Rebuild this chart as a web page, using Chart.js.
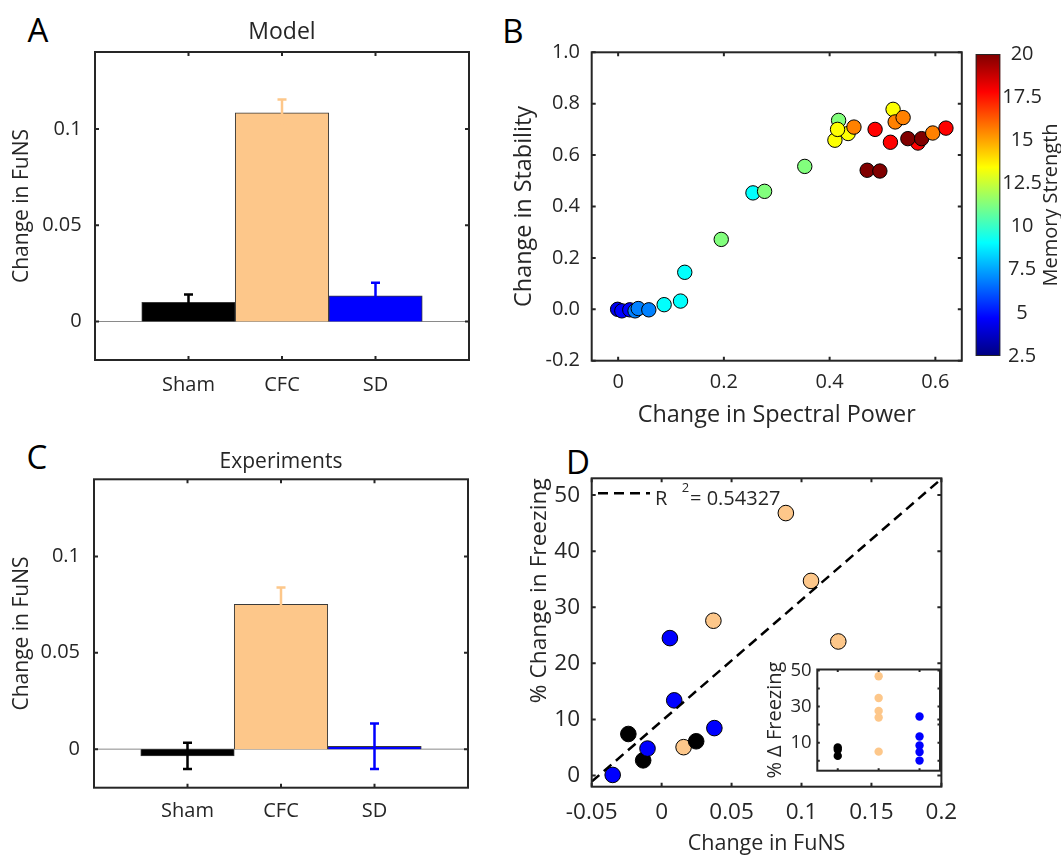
<!DOCTYPE html>
<html>
<head>
<meta charset="utf-8">
<script src="https://cdn.jsdelivr.net/npm/chart.js@4.4.1/dist/chart.umd.min.js"></script>
<style>
  body { margin: 0; background: #fff; width: 1061px; height: 856px; position: relative; overflow: hidden; }
  canvas { position: absolute; }
  .letter { position: absolute; font: 33px 'Open Sans', sans-serif; color: #000; line-height: 1; transform: translate(-50%, -50%); }
</style>
</head>
<body>
<div class="letter" style="left:38px;top:29px">A</div>
<div class="letter" style="left:513px;top:30px">B</div>
<div class="letter" style="left:37px;top:456px">C</div>
<div class="letter" style="left:578px;top:461px">D</div>
<canvas id="chartA" width="480" height="410" style="left:0;top:0"></canvas>
<canvas id="chartC" width="480" height="436" style="left:0;top:420px"></canvas>
<canvas id="chartB" width="480" height="440" style="left:490px;top:0"></canvas>
<canvas id="cbar" width="101" height="330" style="left:960px;top:40px"></canvas>
<canvas id="chartD" width="480" height="436" style="left:490px;top:420px"></canvas>
<canvas id="inset" width="210" height="150" style="left:740px;top:640px"></canvas>
<script>
// panels A and C: change in FuNS per group
var groups = ['Sham', 'CFC', 'SD'];
var groupColors = ['#000000', '#FDC78A', '#0000FF'];
var modelFuns = [0.010, 0.1084, 0.0133];
var modelErr = [0.004, 0.0069, 0.0068];
var exptFuns = [-0.0035, 0.0751, 0.0015];
var exptErr = [0.0068, 0.0088, 0.0118];
var funsTicks = [0, 0.05, 0.1];

// panel B: spectral power vs stability, coloured by memory strength
var spectralPower = [-0.001, 0.007, 0.022, 0.032, 0.038, 0.058, 0.087, 0.118, 0.126, 0.195, 0.255, 0.277, 0.353,
  0.417, 0.41, 0.435, 0.415, 0.446, 0.486, 0.471, 0.495, 0.52, 0.524, 0.539, 0.515, 0.567, 0.548, 0.574, 0.595, 0.62];
var stability = [0.0, -0.006, -0.002, -0.006, 0.003, -0.002, 0.018, 0.032, 0.144, 0.272, 0.453, 0.459, 0.556,
  0.735, 0.658, 0.684, 0.70, 0.709, 0.70, 0.541, 0.538, 0.778, 0.729, 0.746, 0.65, 0.647, 0.664, 0.664, 0.686, 0.705];
var memoryStrength = [4.4, 4.7, 4.7, 6.9, 6.9, 6.9, 9.1, 9.1, 9.1, 11.3, 9.1, 11.3, 11.3,
  11.3, 13.4, 13.4, 13.4, 15.6, 17.8, 20, 20, 13.4, 15.6, 15.6, 17.8, 17.8, 20, 20, 15.6, 17.8];
var powerTicks = [0, 0.2, 0.4, 0.6];
var stabilityTicks = [-0.2, 0, 0.2, 0.4, 0.6, 0.8, 1.0];
var memoryTicks = [2.5, 5, 7.5, 10, 12.5, 15, 17.5, 20];

// panel D: FuNS change vs freezing change
var shamFuns = [-0.0238, 0.0247, -0.0132];
var shamFreezing = [7.4, 6.1, 2.7];
var cfcFuns = [0.0888, 0.1068, 0.037, 0.1263, 0.0157];
var cfcFreezing = [46.8, 34.7, 27.6, 23.9, 5.05];
var sdFuns = [0.0059, 0.009, 0.0377, -0.0101, -0.035];
var sdFreezing = [24.5, 13.4, 8.45, 4.8, 0.1];
var fitFuns = [-0.05, 0.2];
var fitFreezing = [-1.1, 52.9];
var rSquared = '0.54327';
var funsChangeTicks = [-0.05, 0, 0.05, 0.1, 0.15, 0.2];
var freezingTicks = [0, 10, 20, 30, 40, 50];
var insetTicks = [0, 10, 20, 30, 40, 50];
var insetLabelTicks = [10, 30, 50];

Chart.defaults.font.family = "'Open Sans', sans-serif";
Chart.defaults.color = '#262626';
Chart.defaults.animation = false;
Chart.defaults.responsive = false;
Chart.defaults.plugins.legend.display = false;
Chart.defaults.plugins.tooltip.enabled = false;

var INK = '#262626';

function jet(v) {
  var t = (v - memoryTicks[0]) / (memoryTicks[memoryTicks.length - 1] - memoryTicks[0]);
  function c(k) { return Math.round(255 * Math.max(0, Math.min(1, 1.5 - Math.abs(4 * t - k)))); }
  return 'rgb(' + c(3) + ',' + c(2) + ',' + c(1) + ')';
}
function fixedTicks(list) { return function (s) { s.ticks = list.map(function (v) { return { value: v }; }); }; }
function fitWidth(w) { return function (s) { s.width = w; }; }
function fitHeight(h) { return function (s) { s.height = h; }; }
function pts(xs, ys) { return xs.map(function (x, i) { return { x: x, y: ys[i] }; }); }
function num(v) { return String(+v.toFixed(4)); }

function axis(o) {
  var a = {
    min: o.min, max: o.max, offset: false,
    grid: { display: false, drawTicks: false },
    border: { display: false },
    afterBuildTicks: fixedTicks(o.ticks),
    ticks: { padding: o.pad, font: { size: o.font || 20 }, maxRotation: 0, autoSkip: false, callback: o.cb || num }
  };
  if (o.w !== undefined) a.afterFit = fitWidth(o.w);
  if (o.h !== undefined) a.afterFit = fitHeight(o.h);
  if (o.title) a.title = { display: true, text: o.title, align: o.talign || 'center', font: { size: o.tfont || 22 }, padding: o.tpad, color: INK };
  if (o.type) a.type = o.type;
  return a;
}

// box with inward ticks on all four sides
var matlabBox = {
  id: 'matlabBox',
  afterDraw: function (chart, args, opts) {
    var a = chart.chartArea, ctx = chart.ctx, len = opts.tickLen || 4;
    var x = chart.scales.x, y = chart.scales.y;
    ctx.save();
    ctx.strokeStyle = INK;
    ctx.lineWidth = opts.lineWidth || 2;
    ctx.beginPath();
    x.ticks.forEach(function (t) {
      var p = x.getPixelForValue(t.value);
      ctx.moveTo(p, a.bottom); ctx.lineTo(p, a.bottom - len);
      ctx.moveTo(p, a.top); ctx.lineTo(p, a.top + len);
    });
    y.ticks.forEach(function (t) {
      var p = y.getPixelForValue(t.value);
      ctx.moveTo(a.left, p); ctx.lineTo(a.left + len, p);
      ctx.moveTo(a.right, p); ctx.lineTo(a.right - len, p);
    });
    ctx.stroke();
    ctx.strokeRect(a.left, a.top, a.right - a.left, a.bottom - a.top);
    ctx.restore();
  }
};

// grey zero line under the bars
var baseline = {
  id: 'baseline',
  beforeDatasetsDraw: function (chart) {
    var a = chart.chartArea, ctx = chart.ctx, p = chart.scales.y.getPixelForValue(0);
    ctx.save();
    ctx.strokeStyle = '#8a8a8a';
    ctx.lineWidth = 1;
    ctx.beginPath(); ctx.moveTo(a.left, p); ctx.lineTo(a.right, p); ctx.stroke();
    ctx.restore();
  }
};

var errorBars = {
  id: 'errorBars',
  afterDatasetsDraw: function (chart, args, opts) {
    var x = chart.scales.x, y = chart.scales.y, ctx = chart.ctx;
    ctx.save();
    ctx.lineWidth = 2.5;
    opts.means.forEach(function (m, i) {
      var px = x.getPixelForValue(i + 1);
      var hi = y.getPixelForValue(m + opts.errs[i]);
      var lo = y.getPixelForValue(m - opts.errs[i]);
      ctx.strokeStyle = groupColors[i];
      ctx.beginPath();
      ctx.moveTo(px, lo); ctx.lineTo(px, hi);
      ctx.moveTo(px - 4.5, hi); ctx.lineTo(px + 4.5, hi);
      ctx.moveTo(px - 4.5, lo); ctx.lineTo(px + 4.5, lo);
      ctx.stroke();
    });
    ctx.restore();
  }
};

function barChart(id, title, tsize, tpad, means, errs, pad, yW, xH) {
  return new Chart(document.getElementById(id), {
    type: 'bar',
    data: {
      datasets: [{
        data: means.map(function (v, i) { return { x: i + 1, y: v }; }),
        backgroundColor: groupColors,
        borderColor: '#3a3a3a',
        borderWidth: 1,
        barPercentage: 1,
        categoryPercentage: 1
      }]
    },
    plugins: [baseline, errorBars, matlabBox],
    options: {
      layout: { padding: { left: 0, top: 0, right: pad.right, bottom: 0 } },
      plugins: {
        title: { display: true, text: title, fullSize: false, color: INK, font: { size: tsize, weight: 'normal' }, padding: tpad },
        errorBars: { means: means, errs: errs }
      },
      scales: {
        x: axis({ type: 'linear', min: 0, max: 4, ticks: [1, 2, 3], pad: pad.x, h: xH,
          cb: function (v) { return groups[v - 1]; } }),
        y: axis({ min: -0.02, max: 0.14, ticks: funsTicks, pad: pad.y, w: yW,
          title: 'Change in FuNS', tfont: 21, tpad: { top: pad.t } })
      }
    }
  });
}

barChart('chartA', 'Model', 23, { top: 19, bottom: 5.4 }, modelFuns, modelErr, { right: 11, x: 13.3, y: 13.3, t: 9.4 }, 95, 50);
barChart('chartC', 'Experiments', 21, { top: 29.1, bottom: 5 }, exptFuns, exptErr, { right: 12, x: 12, y: 14, t: 9.1 }, 94, 68.3);

// panel B
new Chart(document.getElementById('chartB'), {
  type: 'scatter',
  data: {
    datasets: [{
      data: pts(spectralPower, stability),
      pointBackgroundColor: memoryStrength.map(jet),
      pointBorderColor: '#000',
      pointBorderWidth: 1,
      pointRadius: 7.2
    }]
  },
  plugins: [matlabBox],
  options: {
    layout: { padding: { left: 0, top: 52.3, right: 5.7, bottom: 0 } },
    scales: {
      x: axis({ min: -0.05, max: 0.65, ticks: powerTicks, pad: 10, h: 79.3,
        title: 'Change in Spectral Power', tfont: 23.4, tpad: { bottom: 10.7 } }),
      y: axis({ min: -0.2, max: 1.0, ticks: stabilityTicks, pad: 11.7, w: 101.7,
        cb: function (v) { return v.toFixed(1); },
        title: 'Change in Stability', tfont: 23.4, tpad: { top: 20.5 } })
    }
  }
});

// colour bar for panel B
var cbarTitle = {
  id: 'cbarTitle',
  afterDraw: function (chart, args, opts) {
    var a = chart.chartArea, ctx = chart.ctx;
    ctx.save();
    ctx.translate(a.right + 51.4, (a.top + a.bottom) / 2);
    ctx.rotate(-Math.PI / 2);
    ctx.font = "20px 'Open Sans', sans-serif";
    ctx.fillStyle = INK;
    ctx.textAlign = 'center';
    ctx.textBaseline = 'middle';
    ctx.fillText(opts.text, 0, 0);
    ctx.restore();
    ctx.save();
    ctx.strokeStyle = INK;
    ctx.lineWidth = 1;
    ctx.strokeRect(a.left + 0.5, a.top + 0.5, a.right - a.left - 1, a.bottom - a.top - 1);
    ctx.restore();
  }
};
new Chart(document.getElementById('cbar'), {
  type: 'bar',
  data: {
    labels: ['Memory Strength'],
    datasets: [{
      data: [[memoryTicks[0], memoryTicks[memoryTicks.length - 1]]],
      backgroundColor: function (c) {
        var a = c.chart.chartArea;
        if (!a) return 'transparent';
        var g = c.chart.ctx.createLinearGradient(0, a.bottom, 0, a.top);
        var lo = memoryTicks[0], hi = memoryTicks[memoryTicks.length - 1];
        for (var k = 0; k <= 32; k++) g.addColorStop(k / 32, jet(lo + (hi - lo) * k / 32));
        return g;
      },
      borderWidth: 0,
      barPercentage: 1,
      categoryPercentage: 1
    }]
  },
  plugins: [cbarTitle],
  options: {
    layout: { padding: { left: 15.7, top: 12.3, right: 0, bottom: 10 } },
    plugins: { cbarTitle: { text: 'Memory Strength' } },
    scales: {
      x: { display: false, offset: true },
      y: {
        position: 'right', min: 2.5, max: 20,
        grid: { display: false, drawTicks: false },
        border: { display: false },
        afterBuildTicks: fixedTicks(memoryTicks),
        afterFit: fitWidth(60.7),
        ticks: { padding: 2, crossAlign: 'center', font: { size: 20 }, callback: num }
      }
    }
  }
});

// panel D
var fitLegend = {
  id: 'fitLegend',
  afterDraw: function (chart, args, opts) {
    var a = chart.chartArea, ctx = chart.ctx;
    ctx.save();
    ctx.strokeStyle = '#000';
    ctx.lineWidth = 2.5;
    ctx.setLineDash([10, 6]);
    ctx.beginPath(); ctx.moveTo(a.left + 6.3, a.top + 15); ctx.lineTo(a.left + 58.3, a.top + 15); ctx.stroke();
    ctx.setLineDash([]);
    ctx.fillStyle = INK;
    ctx.textBaseline = 'middle';
    ctx.font = "20px 'Open Sans', sans-serif";
    ctx.fillText('R', a.left + 63.3, a.top + 20.5);
    ctx.fillText('= ' + opts.value, a.left + 98.3, a.top + 20.5);
    ctx.font = "13px 'Open Sans', sans-serif";
    ctx.fillText('2', a.left + 90, a.top + 10);
    ctx.restore();
  }
};
function dot(color, xs, ys) {
  return { data: pts(xs, ys), pointBackgroundColor: color, pointBorderColor: '#000', pointBorderWidth: 1, pointRadius: 7.8 };
}
new Chart(document.getElementById('chartD'), {
  type: 'scatter',
  data: {
    datasets: [
      { data: pts(fitFuns, fitFreezing), showLine: true, borderColor: '#000', borderWidth: 2.5, borderDash: [10, 6], pointRadius: 0 },
      dot(groupColors[2], sdFuns, sdFreezing),
      dot(groupColors[0], shamFuns, shamFreezing),
      dot(groupColors[1], cfcFuns, cfcFreezing)
    ]
  },
  plugins: [matlabBox, fitLegend],
  options: {
    layout: { padding: { left: 0, top: 58.3, right: 7, bottom: 0 } },
    plugins: { fitLegend: { value: rSquared } },
    scales: {
      x: axis({ min: -0.05, max: 0.2, ticks: funsChangeTicks, pad: 12.8, h: 69.3, font: 22.5,
        title: 'Change in FuNS', tfont: 21.5, tpad: { bottom: -0.9 } }),
      y: axis({ min: -2, max: 53, ticks: freezingTicks, pad: 11.7, w: 101.7, font: 22.5,
        title: '% Change in Freezing', tfont: 22.7, talign: 'end', tpad: { top: 36.4 } })
    }
  }
});

// inset of panel D
function insetDot(color, n, ys) {
  return { data: ys.map(function (v) { return { x: n, y: v }; }), pointBackgroundColor: color, pointBorderWidth: 0, pointRadius: 4.2 };
}
new Chart(document.getElementById('inset'), {
  type: 'scatter',
  data: {
    datasets: [
      insetDot(groupColors[0], 1, shamFreezing),
      insetDot(groupColors[1], 2, cfcFreezing),
      insetDot(groupColors[2], 3, sdFreezing)
    ]
  },
  plugins: [matlabBox],
  options: {
    layout: { padding: { left: 0, top: 29.5, right: 10, bottom: 0 } },
    plugins: { matlabBox: { tickLen: 2.5 } },
    scales: {
      x: axis({ min: 0.5, max: 3.5, ticks: [1, 2, 3], pad: 2, h: 19.3, cb: function () { return ''; } }),
      y: axis({ min: -5.5, max: 50.5, ticks: insetTicks, pad: 5.6, w: 77.3, font: 18.5,
        cb: function (v) { return insetLabelTicks.indexOf(v) >= 0 ? String(v) : ''; },
        title: '% \u0394 Freezing', tfont: 20, tpad: { top: 23 } })
    }
  }
});
</script>
</body>
</html>
